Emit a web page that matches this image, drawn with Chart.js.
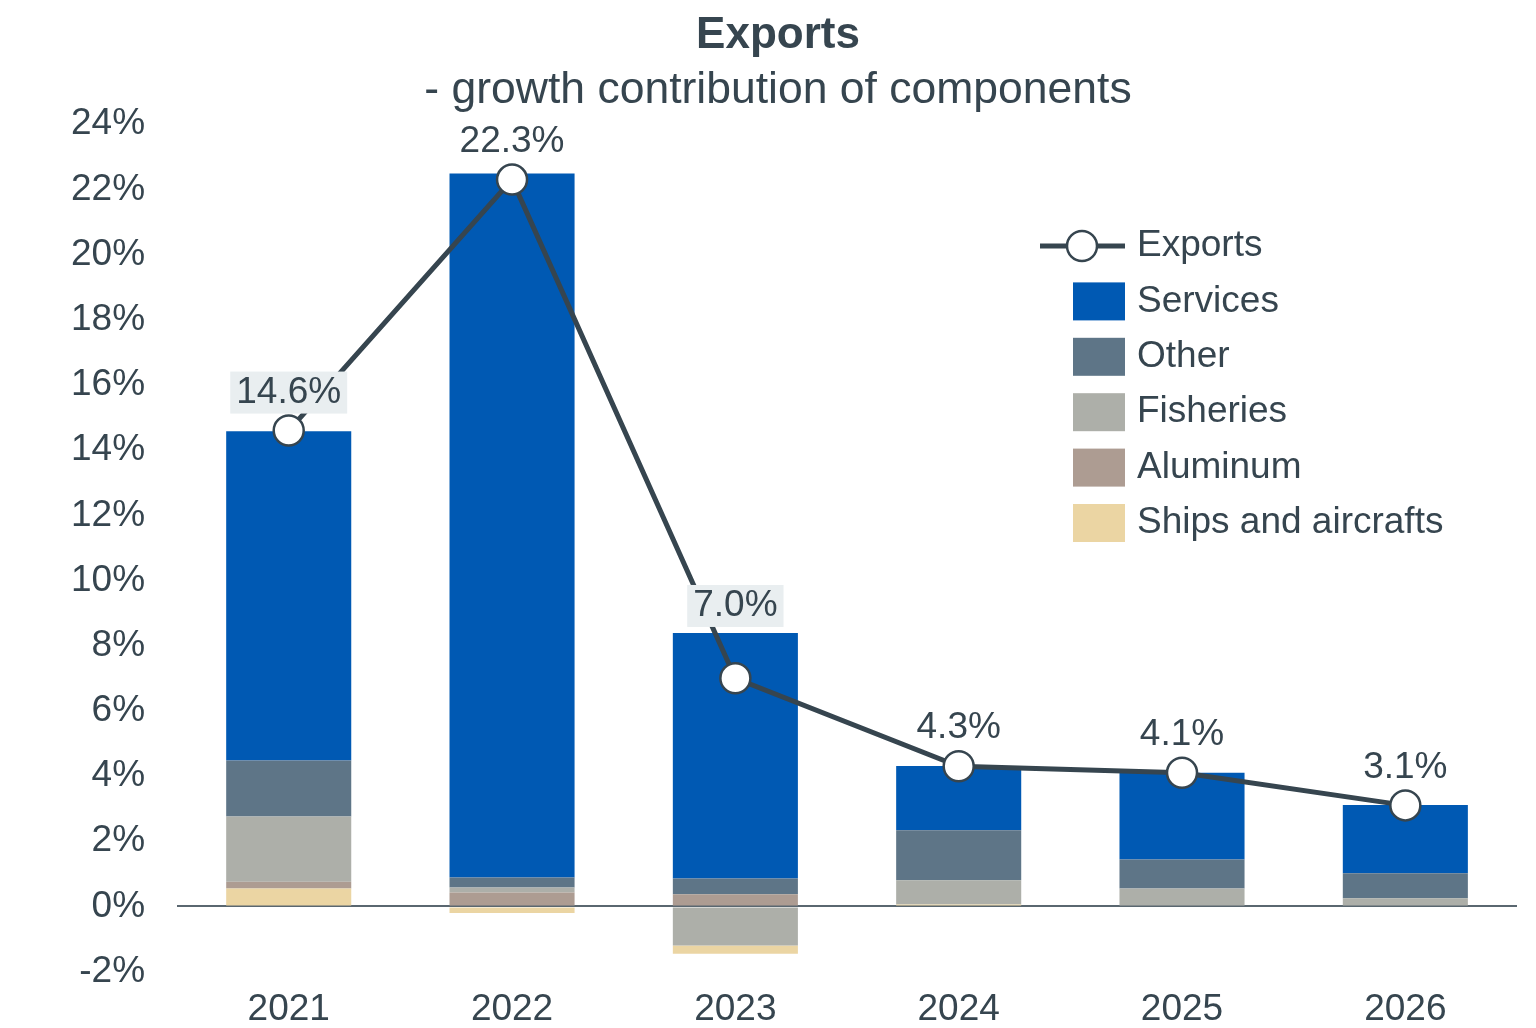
<!DOCTYPE html>
<html lang="en">
<head>
<meta charset="UTF-8">
<title>Exports</title>
<style>
  html, body { margin: 0; padding: 0; background: #ffffff; }
  #chart { display: block; }
</style>
</head>
<body>
<canvas id="chart" width="1536" height="1028"></canvas>
<script src="https://cdn.jsdelivr.net/npm/chart.js"></script>
<script>
// Data (percentage points)
const years = ["2021", "2022", "2023", "2024", "2025", "2026"];
const exportsTotal = [14.6, 22.3, 7.0, 4.3, 4.1, 3.1];
const ships = [0.55, -0.2, -0.25, 0.06, 0, 0];
const aluminum = [0.21, 0.43, 0.37, 0, 0, 0];
const fisheries = [2.0, 0.15, -1.2, 0.74, 0.55, 0.25];
const other = [1.72, 0.31, 0.49, 1.54, 0.89, 0.77];
const services = [10.1, 21.6, 7.53, 1.97, 2.66, 2.09];
const yTicks = [-2, 0, 2, 4, 6, 8, 10, 12, 14, 16, 18, 20, 22, 24];

const textColor = "#36454f";
const lineColor = "#36454f";
const series = [
  { label: "Ships and aircrafts", data: ships, color: "#ebd5a3" },
  { label: "Aluminum", data: aluminum, color: "#ad9c92" },
  { label: "Fisheries", data: fisheries, color: "#adafa9" },
  { label: "Other", data: other, color: "#5e7587" },
  { label: "Services", data: services, color: "#0059b3" },
];
const boxedLabels = [0, 2];

// negative parts stack outward in reverse order, positive parts bottom-up
const barSets = [];
series.slice().reverse().forEach(s => {
  barSets.push({
    type: "bar", label: s.label + " (neg)", stack: "comp", order: 1,
    data: s.data.map(v => v < 0 ? v : null),
    backgroundColor: s.color, borderWidth: 0,
    barPercentage: 1, categoryPercentage: 0.56,
  });
});
series.forEach(s => {
  barSets.push({
    type: "bar", label: s.label, stack: "comp", order: 1,
    data: s.data.map(v => v >= 0 ? v : null),
    backgroundColor: s.color, borderWidth: 0,
    barPercentage: 1, categoryPercentage: 0.56,
  });
});

const font = "'Liberation Sans', Arial, sans-serif";

const valueLabels = {
  id: "valueLabels",
  afterDatasetsDraw(chart) {
    const ctx = chart.ctx;
    const y = chart.scales.y;
    const meta = chart.getDatasetMeta(0);
    ctx.save();
    ctx.font = "37px " + font;
    ctx.textAlign = "center";
    ctx.textBaseline = "middle";
    exportsTotal.forEach((v, i) => {
      const pt = meta.data[i];
      const posSum = series.reduce((a, s) => a + (s.data[i] > 0 ? s.data[i] : 0), 0);
      const barTop = y.getPixelForValue(posSum);
      const ly = Math.min(pt.y - 38, barTop - 27);
      const txt = v.toFixed(1) + "%";
      if (boxedLabels.includes(i)) {
        const w = ctx.measureText(txt).width + 12;
        ctx.fillStyle = "#e9eef0";
        ctx.fillRect(pt.x - w / 2, ly - 21, w, 42);
      }
      ctx.fillStyle = textColor;
      ctx.fillText(txt, pt.x, ly);
    });
    ctx.restore();
  }
};

const customLegend = {
  id: "customLegend",
  afterDraw(chart) {
    const ctx = chart.ctx;
    const tx = 1137, bx = 1073, bw = 52, bh = 38;
    let ly = 246;
    const step = 55.4;
    ctx.save();
    ctx.font = "37px " + font;
    ctx.textBaseline = "middle";
    ctx.textAlign = "left";
    // line entry
    ctx.strokeStyle = lineColor;
    ctx.lineWidth = 5;
    ctx.beginPath();
    ctx.moveTo(1040, ly);
    ctx.lineTo(1125, ly);
    ctx.stroke();
    ctx.beginPath();
    ctx.arc(1082, ly, 15, 0, Math.PI * 2);
    ctx.fillStyle = "#ffffff";
    ctx.fill();
    ctx.lineWidth = 2.5;
    ctx.stroke();
    ctx.fillStyle = textColor;
    ctx.fillText("Exports", tx, ly);
    series.slice().reverse().forEach(s => {
      ly += step;
      ctx.fillStyle = s.color;
      ctx.fillRect(bx, ly - bh / 2, bw, bh);
      ctx.fillStyle = textColor;
      ctx.fillText(s.label, tx, ly);
    });
    ctx.restore();
  }
};

new Chart(document.getElementById("chart").getContext("2d"), {
  data: {
    labels: years,
    datasets: [
      {
        type: "line", label: "Exports", data: exportsTotal, stack: "line", order: 0,
        borderColor: lineColor, borderWidth: 5, tension: 0,
        pointRadius: 15, pointBackgroundColor: "#ffffff",
        pointBorderColor: lineColor, pointBorderWidth: 2.5,
      },
      ...barSets,
    ],
  },
  options: {
    responsive: false,
    animation: false,
    devicePixelRatio: 1,
    layout: { padding: { left: 39, right: 19, top: 0, bottom: -12 } },
    plugins: {
      legend: { display: false },
      tooltip: { enabled: false },
      title: {
        display: true, text: "Exports", color: textColor,
        font: { family: font, size: 44, weight: "bold" },
        padding: { top: 9, bottom: 0 },
      },
      subtitle: {
        display: true, text: "- growth contribution of components", color: textColor,
        font: { family: font, size: 44.5 },
        padding: { top: 2, bottom: 7 },
      },
    },
    scales: {
      x: {
        stacked: true,
        grid: { display: false },
        border: { display: false },
        ticks: { color: textColor, font: { family: font, size: 37 }, padding: 8 },
      },
      y: {
        stacked: true,
        min: -2, max: 24,
        afterBuildTicks(axis) { axis.ticks = yTicks.map(v => ({ value: v })); },
        grid: {
          drawTicks: false,
          lineWidth: 2,
          color: c => c.tick && c.tick.value === 0 ? "#5a6770" : "rgba(0,0,0,0)",
        },
        border: { display: false },
        ticks: {
          color: textColor, font: { family: font, size: 37 }, padding: 32,
          callback: v => v + "%",
        },
      },
    },
  },
  plugins: [valueLabels, customLegend],
});
</script>
</body>
</html>
